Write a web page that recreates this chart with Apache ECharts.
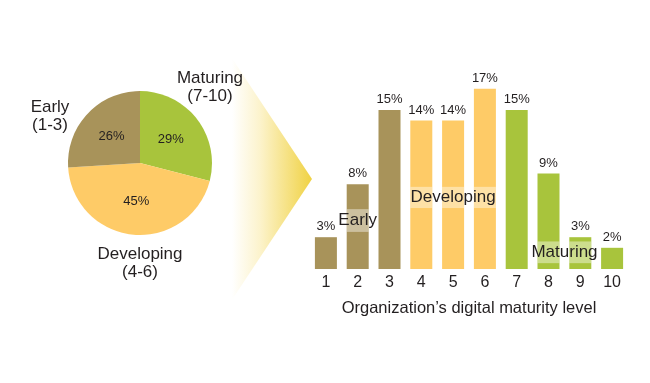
<!DOCTYPE html>
<html>
<head>
<meta charset="utf-8">
<script src="https://cdn.jsdelivr.net/npm/echarts@6/dist/echarts.min.js"></script>
<style>html,body{margin:0;padding:0;background:#fff;}#c{width:650px;height:383px;}</style>
</head>
<body>
<div id="c"></div>
<script>
// ---- data ----
var groupNames = ['Maturing', 'Developing', 'Early'];
var groupRanges = ['7-10', '4-6', '1-3'];
var groupShares = [29, 45, 26];

var levels = ['1', '2', '3', '4', '5', '6', '7', '8', '9', '10'];
var levelShares = [3, 8, 15, 14, 14, 17, 15, 9, 3, 2];
var levelGroup = ['Early', 'Early', 'Early', 'Developing', 'Developing', 'Developing', 'Maturing', 'Maturing', 'Maturing', 'Maturing'];
var axisTitle = 'Organization\u2019s digital maturity level';

// ---- styles ----
var FONT = '"Liberation Sans", Arial, sans-serif';
var TEXT = '#231f20';
var groupColors = { 'Early': '#a8935a', 'Developing': '#fecb67', 'Maturing': '#a8c43c' };
// band annotations (in value units) drawn over bars of each group
var bandRanges = { 'Early': [3.5, 5.65], 'Developing': [5.75, 7.75], 'Maturing': [0.55, 2.6] };
var bandBars = { 'Early': [1], 'Developing': [3, 4, 5], 'Maturing': [7, 8] };
var bandLabelBar = { 'Early': 1, 'Developing': 4, 'Maturing': 7 };
var bandLabelOffset = { 'Early': [0, 0], 'Developing': [0, 0], 'Maturing': [16, 0] };

var pieData = groupNames.map(function (n, i) {
  return { name: n, value: groupShares[i], itemStyle: { color: groupColors[n] } };
});
var outerLabelPos = [[210, 87], [140, 263], [50, 116]];

var bandSeries = [];
['Early', 'Developing', 'Maturing'].forEach(function (g) {
  var base = levels.map(function (l, i) { return bandBars[g].indexOf(i) >= 0 ? bandRanges[g][0] : '-'; });
  var top = levels.map(function (l, i) {
    if (bandBars[g].indexOf(i) < 0) return '-';
    var d = { value: bandRanges[g][1] - bandRanges[g][0] };
    if (i === bandLabelBar[g]) {
      d.label = { show: true, position: 'inside', formatter: g, offset: bandLabelOffset[g],
        color: TEXT, fontFamily: FONT, fontSize: 17 };
    }
    return d;
  });
  bandSeries.push({ type: 'bar', stack: 'band' + g, data: base, barWidth: 22, barGap: '-100%',
    itemStyle: { color: 'rgba(0,0,0,0)' }, silent: true, z: 3 });
  bandSeries.push({ type: 'bar', stack: 'band' + g, data: top, barWidth: 22, barGap: '-100%',
    itemStyle: { color: 'rgba(255,255,255,0.42)' }, silent: true, z: 3 });
});

var chart = echarts.init(document.getElementById('c'), null, { renderer: 'canvas' });
chart.setOption({
  animation: false,
  backgroundColor: '#fff',
  textStyle: { fontFamily: FONT },
  graphic: [{
    type: 'polygon', z: 0,
    shape: { points: [[200, 10], [312, 179], [200, 348]] },
    style: { fill: { type: 'linear', x: 232, y: 0, x2: 312, y2: 0, global: true,
      colorStops: [{ offset: 0, color: 'rgba(255,255,255,1)' }, { offset: 0.35, color: '#fcf3cc' }, { offset: 1, color: '#f0d243' }] } }
  }],
  grid: { left: 310, right: 22, top: 57, bottom: 114 },
  xAxis: {
    type: 'category', data: levels,
    axisLine: { show: false }, axisTick: { show: false },
    axisLabel: { color: TEXT, fontFamily: FONT, fontSize: 16, margin: 6 },
    name: axisTitle, nameLocation: 'middle', nameGap: 31,
    nameTextStyle: { color: TEXT, fontFamily: FONT, fontSize: 16.5 }
  },
  yAxis: { type: 'value', min: 0, max: 20, show: false, splitLine: { show: false } },
  series: [{
    type: 'pie', center: [140, 163], radius: 72, startAngle: 90, clockwise: true,
    data: pieData, z: 2,
    label: { show: true, position: 'inside', formatter: '{c}%', color: TEXT, fontFamily: FONT, fontSize: 13 },
    labelLine: { show: false }
  }, {
    type: 'pie', center: [140, 163], radius: 72, startAngle: 90, clockwise: true,
    data: pieData.map(function (d) { return { name: d.name, value: d.value }; }), z: 1, silent: true,
    itemStyle: { color: 'rgba(255,255,255,0)' },
    label: { show: true, position: 'outside', overflow: 'none', color: TEXT, fontFamily: FONT, fontSize: 17, lineHeight: 18,
      align: 'center', verticalAlign: 'middle',
      formatter: function (p) { return p.name + '\n(' + groupRanges[p.dataIndex] + ')'; } },
    labelLine: { show: false },
    labelLayout: function (p) { return { x: outerLabelPos[p.dataIndex][0], y: outerLabelPos[p.dataIndex][1], align: 'center', verticalAlign: 'middle' }; }
  }, {
    type: 'bar', data: levelShares.map(function (v, i) { return { value: v, itemStyle: { color: groupColors[levelGroup[i]] } }; }),
    barWidth: 22, barGap: '-100%', z: 2,
    label: { show: true, position: 'top', distance: 4, formatter: '{c}%', color: TEXT, fontFamily: FONT, fontSize: 13 }
  }].concat(bandSeries)
});
</script>
</body>
</html>
